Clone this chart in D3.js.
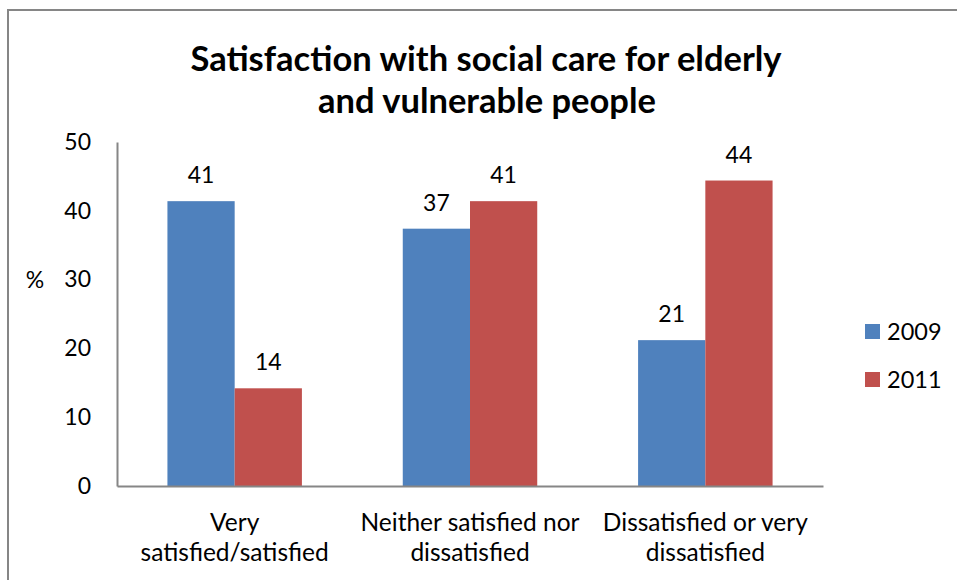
<!DOCTYPE html>
<html>
<head>
<meta charset="utf-8">
<script src="https://cdn.jsdelivr.net/npm/d3@7"></script>
<style>
  body { margin: 0; background: #fff; }
  svg text { font-family: Lato, "Open Sans", sans-serif; fill: #000; }
</style>
</head>
<body>
<div id="chart"></div>
<script>
// data
var categories = [["Very", "satisfied/satisfied"],
                  ["Neither satisfied nor", "dissatisfied"],
                  ["Dissatisfied or very", "dissatisfied"]];
var seriesNames = ["2009", "2011"];
var values2009 = [41.4, 37.4, 21.2];
var values2011 = [14.2, 41.4, 44.4];
var yTicks = [0, 10, 20, 30, 40, 50];
var colors = ["#4f81bd", "#c0504d"];

var width = 957, height = 580;
var svg = d3.select('#chart').append('svg')
  .attr('width', width)
  .attr('height', height);

// chart frame (only top and left edges are in view)
svg.append('path')
  .attr('d', 'M8,' + height + 'V10H' + width)
  .attr('fill', 'none')
  .attr('stroke', '#868686')
  .attr('stroke-width', 2);

// title
var title = svg.append('text')
  .attr('text-anchor', 'middle')
  .style('font-weight', 'bold')
  .style('font-size', '34.5px');
title.append('tspan').attr('x', 486).attr('y', 71).text('Satisfaction with social care for elderly');
title.append('tspan').attr('x', 487).attr('y', 113).text('and vulnerable people');

var x0 = d3.scaleBand()
  .domain(d3.range(categories.length))
  .range([117, 823]);

var x1 = d3.scaleBand()
  .domain(seriesNames)
  .range([0, x0.bandwidth()])
  .paddingInner(0)
  .paddingOuter(0.75);

var y = d3.scaleLinear()
  .domain([0, 50])
  .range([486, 142]);

// y axis: line plus labels, no tick marks
var yAxis = svg.append('g')
  .attr('transform', 'translate(117,0)')
  .call(d3.axisLeft(y).tickValues(yTicks).tickSize(0).tickPadding(26));
yAxis.select('.domain').attr('stroke', '#868686').attr('stroke-width', 2);
yAxis.selectAll('text').style('font-size', '23px').style('font-family', 'Lato, sans-serif');

svg.append('text')
  .attr('x', 35).attr('y', 280).attr('dy', '0.35em')
  .attr('text-anchor', 'middle')
  .style('font-size', '23px')
  .text('%');

// bars
var rows = categories.map((c, i) => [values2009[i], values2011[i]]);
var groups = svg.append('g').selectAll('g')
  .data(rows)
  .enter().append('g')
    .attr('transform', (d, i) => 'translate(' + x0(i) + ',0)');

groups.selectAll('rect')
  .data(d => d.map((v, k) => ({ key: seriesNames[k], value: v, k: k })))
  .enter().append('rect')
    .attr('x', d => x1(d.key))
    .attr('y', d => y(d.value))
    .attr('width', x1.bandwidth())
    .attr('height', d => y(0) - y(d.value))
    .attr('fill', d => colors[d.k]);

groups.selectAll('text.val')
  .data(d => d.map((v, k) => ({ key: seriesNames[k], value: v, k: k })))
  .enter().append('text')
    .attr('class', 'val')
    .attr('x', d => x1(d.key) + x1.bandwidth() / 2)
    .attr('y', d => y(d.value) - 18)
    .attr('text-anchor', 'middle')
    .style('font-size', '23px')
    .text(d => d3.format('.0f')(d.value));

// x axis
var xAxis = svg.append('g')
  .attr('transform', 'translate(0,486)')
  .call(d3.axisBottom(x0).tickSize(0).tickFormat(''));
xAxis.select('.domain').attr('stroke', '#868686').attr('stroke-width', 2);

categories.forEach((lines, i) => {
  var t = svg.append('text')
    .attr('text-anchor', 'middle')
    .style('font-size', '24.5px');
  lines.forEach((s, j) => {
    t.append('tspan')
      .attr('x', x0(i) + x0.bandwidth() / 2)
      .attr('y', 531 + j * 30)
      .text(s);
  });
});

// legend
var legend = svg.append('g').selectAll('g')
  .data(seriesNames)
  .enter().append('g')
    .attr('transform', (d, i) => 'translate(865,' + (324 + i * 48) + ')');
legend.append('rect')
  .attr('width', 15).attr('height', 15)
  .attr('fill', (d, i) => colors[i]);
legend.append('text')
  .attr('x', 22).attr('y', 16)
  .style('font-size', '23.5px')
  .text(d => d);
</script>
</body>
</html>
